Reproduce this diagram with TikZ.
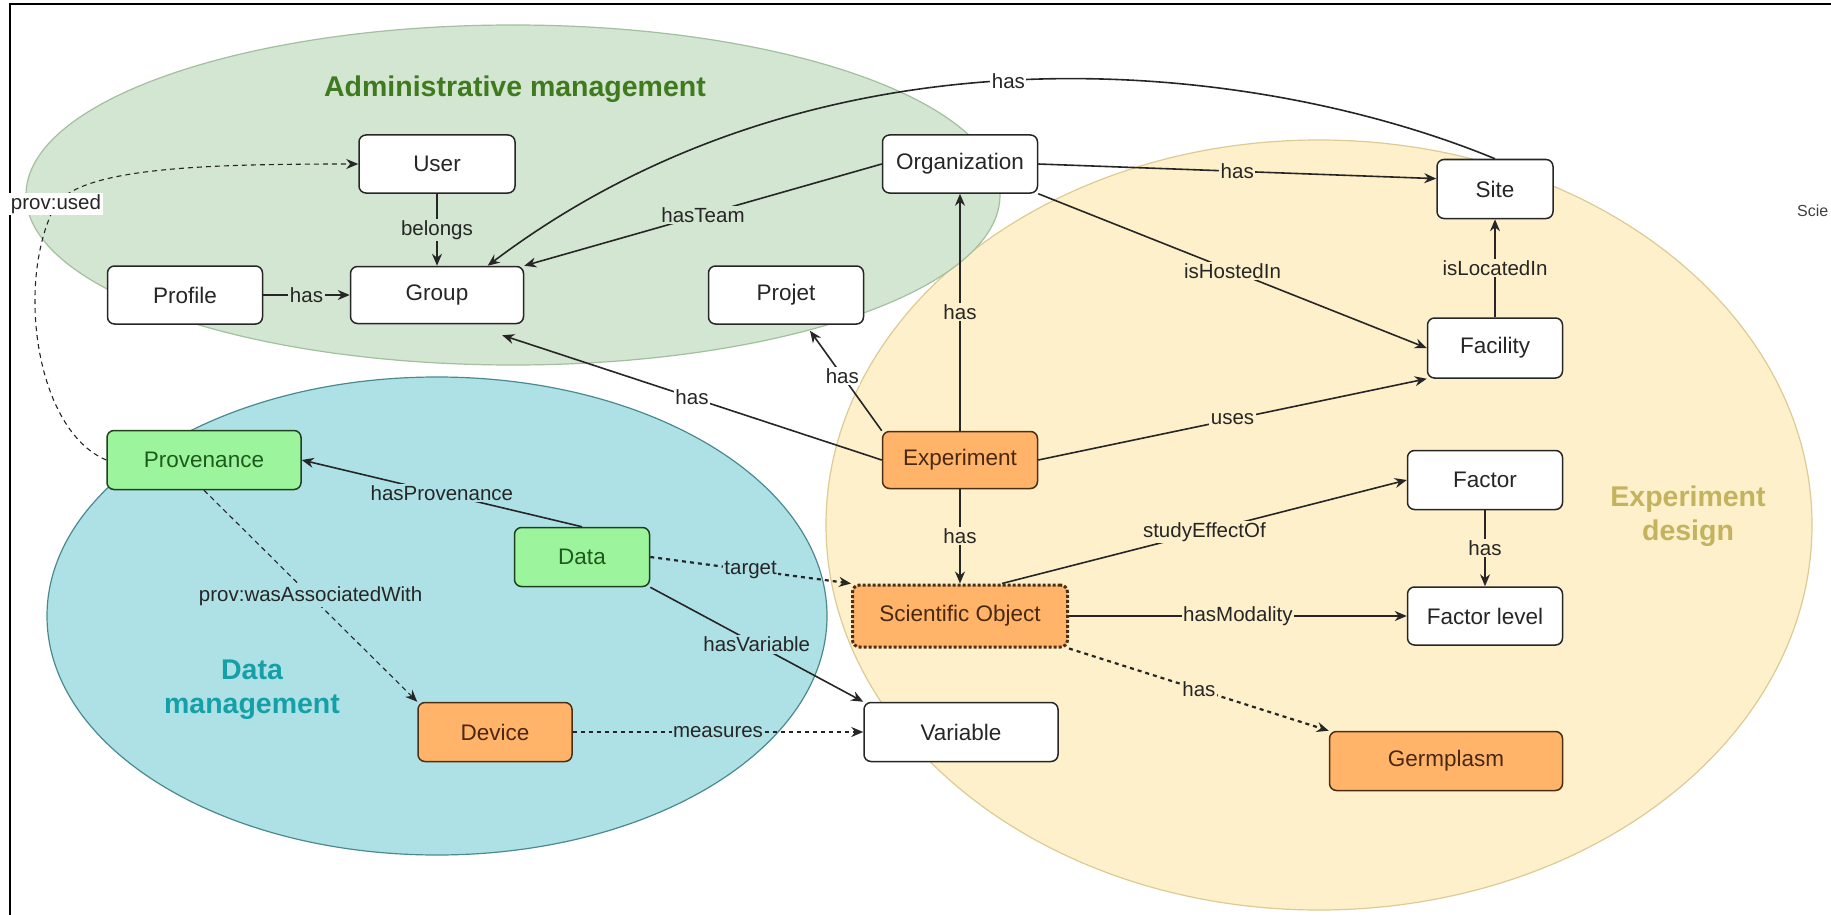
\documentclass[tikz,border=0pt]{standalone}
\usepackage{fontspec}
\setmainfont{Liberation Sans}
\usepackage{xcolor}
\usetikzlibrary{arrows.meta, positioning}
\definecolor{admingreen}{HTML}{D3E6D1}
\definecolor{adminline}{HTML}{A3BF9F}
\definecolor{admintext}{HTML}{3F7A1F}
\definecolor{datablue}{HTML}{AEE1E5}
\definecolor{dataline}{HTML}{4A8A8E}
\definecolor{datatext}{HTML}{15A0A8}
\definecolor{expyellow}{HTML}{FEF0CB}
\definecolor{expline}{HTML}{DCCB94}
\definecolor{exptext}{HTML}{C4B35E}
\definecolor{nodeorange}{HTML}{FFB46A}
\definecolor{orangeline}{HTML}{4A2E16}
\definecolor{orangetext}{HTML}{4A2810}
\definecolor{nodegreen}{HTML}{9CF59C}
\definecolor{greenline}{HTML}{1F3F1F}
\definecolor{greentext}{HTML}{1E5A1E}
\definecolor{edgegray}{HTML}{262626}

\begin{document}
\begin{tikzpicture}[x=1pt, y=-1pt,
  entity/.style={rectangle, rounded corners=7pt, draw=edgegray, line width=1.5pt,
                 fill=white, minimum width=155pt, minimum height=58pt,
                 inner sep=0pt, font=\fontsize{22.5}{26}\selectfont,
                 text=black!85},
  orangebox/.style={entity, fill=nodeorange, draw=orangeline, text=orangetext},
  greenbox/.style={entity, fill=nodegreen, draw=greenline, text=greentext},
  rel/.style={-{Stealth[length=12pt, width=10pt]}, line width=1.6pt, draw=edgegray},
  cond/.style={rel, line width=2.2pt, dash pattern=on 4pt off 4pt},
  provline/.style={rel, line width=1.1pt, dash pattern=on 5pt off 4pt},
  label_style/.style={font=\fontsize{20.5}{23}\selectfont, text=black!85,
                      inner sep=1.5pt},
  zone/.style={line width=1.2pt},
  zone_title/.style={font=\fontsize{28.5}{34}\selectfont\bfseries, align=center}
]
\useasboundingbox (0,0) rectangle (1831,915);

% Domain areas
\draw[zone, fill=expyellow, draw=expline] (1319,525) ellipse [x radius=493, y radius=385];
\draw[zone, fill=datablue, draw=dataline] (437,616) ellipse [x radius=390, y radius=239];
\draw[zone, fill=admingreen, draw=adminline] (513,195) ellipse [x radius=487, y radius=170];

% Frame
\draw[line width=2.5pt] (1831,4) -- (10,4) -- (10,915);

% Area titles
\node[zone_title, text=admintext] (admintitle) at (515,89) {Administrative management};
\node[zone_title, text=datatext] (datatitle) at (252,690) {Data\\management};
\node[zone_title, text=exptext] (exptitle) at (1688,516) {Experiment\\design};
\node[font=\fontsize{16}{18}\selectfont, text=black!75, anchor=west, inner sep=0pt]
      (scie) at (1797,211) {Scie};

% Administrative management
\node[entity, minimum width=156pt] (user) at (437,164) {User};
\node[entity, minimum width=173pt, minimum height=57pt] (group) at (437,295) {Group};
\node[entity] (profile) at (185,295) {Profile};
\node[entity] (projet) at (786,295) {Projet};
\node[entity] (org) at (960,164) {Organization};

% Experiment design
\node[entity, minimum width=116pt, minimum height=59pt] (site) at (1495,189) {Site};
\node[entity, minimum width=135pt, minimum height=60pt] (facility) at (1495,348) {Facility};
\node[orangebox, minimum height=57pt] (exp) at (960,460) {Experiment};
\node[entity, minimum height=59pt] (factor) at (1485,480) {Factor};
\node[entity] (factorlvl) at (1485,616) {Factor level};
\node[orangebox, minimum width=215pt, minimum height=62pt, line width=3pt,
      dash pattern=on 3pt off 2pt] (sciobj) at (960,616) {Scientific Object};
\node[entity, minimum width=194pt, minimum height=59pt] (variable) at (961,732) {Variable};
\node[orangebox, minimum width=233pt, minimum height=59pt] (germ) at (1446,761) {Germplasm};

% Data management
\node[greenbox, minimum width=194pt, minimum height=59pt] (provenance) at (204,460) {Provenance};
\node[greenbox, minimum width=135pt, minimum height=59pt] (data) at (582,557) {Data};
\node[orangebox, minimum width=154pt, minimum height=59pt] (device) at (495,732) {Device};

% Administrative relations
\draw[rel] (user) -- node[label_style, fill=admingreen]{belongs} (group);
\draw[rel] (profile) -- node[label_style, fill=admingreen]{has} (group);
\draw[rel] (org.west) -- node[label_style, fill=admingreen]{hasTeam} (group.north east);
\draw[rel] (site.north) .. controls (1259,61.5) and (827,10) ..
      node[label_style, fill=white, pos=0.52]{has} (group.30);

% Experiment relations
\draw[rel] (org.east) -- node[label_style, fill=expyellow]{has} (site.170);
\draw[rel] (org.south east) -- node[label_style, fill=expyellow]{isHostedIn} (facility.west);
\draw[rel] (facility) -- node[label_style, fill=expyellow]{isLocatedIn} (site);
\draw[rel] (exp) -- node[label_style, fill=expyellow]{has} (org);
\draw[rel] (exp.west) -- node[label_style, fill=white]{has} ([shift={(-22,11)}]group.south east);
\draw[rel] (exp.north west) -- node[label_style, fill=white, pos=0.55]{has} ([shift={(24,6)}]projet.south);
\draw[rel] (exp.east) -- node[label_style, fill=expyellow]{uses} (facility.south west);
\draw[rel] (exp) -- node[label_style, fill=expyellow]{has} (sciobj);
\draw[rel] ([xshift=42pt]sciobj.north) -- node[label_style, fill=expyellow]{studyEffectOf} (factor.west);
\draw[rel] (factor) -- node[label_style, fill=expyellow]{has} (factorlvl);
\draw[rel] (sciobj) -- node[label_style, fill=expyellow]{hasModality} (factorlvl);
\draw[cond] (sciobj.south east) -- node[label_style, fill=expyellow]{has} (germ.north west);

% Data relations
\draw[cond] (data.east) -- node[label_style, fill=datablue]{target} (sciobj.north west);
\draw[rel] (data.south east) -- node[label_style, fill=datablue]{hasVariable} (variable.north west);
\draw[rel] (data.north) -- node[label_style, fill=datablue]{hasProvenance} (provenance.east);
\draw[provline] (provenance.south) --
      node[label_style, fill=datablue]{prov:wasAssociatedWith} (device.north west);
\draw[cond] (device) -- node[label_style, fill=datablue]{measures} (variable);
\draw[provline] (provenance.west) .. controls (35,430) and (15,280) .. (56,204)
      node[label_style, fill=white]{prov:used}
      .. controls (85,168) and (200,164) .. (user.west);

\end{tikzpicture}
\end{document}
